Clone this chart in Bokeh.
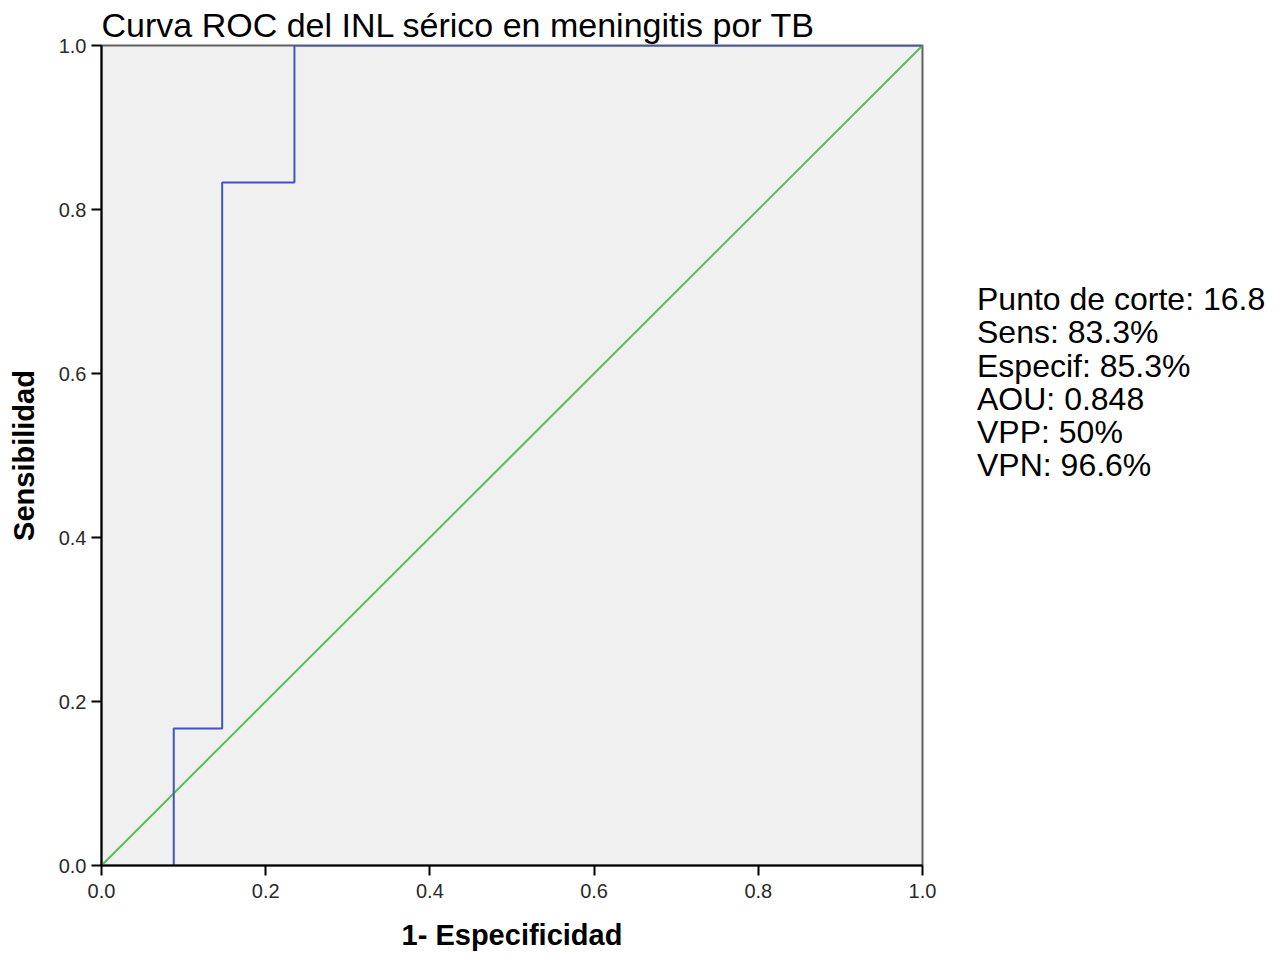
from bokeh.plotting import figure
from bokeh.models import Range1d, FixedTicker, PrintfTickFormatter, Div
from bokeh.layouts import row
from bokeh.embed import file_html
from bokeh.resources import INLINE

# Data
fpr = [0.088, 0.088, 0.147, 0.147, 0.235, 0.235, 1.0]
tpr = [0.0, 0.167, 0.167, 0.833, 0.833, 1.0, 1.0]
ref_x = [0.0, 1.0]
ref_y = [0.0, 1.0]
ticks = [0.0, 0.2, 0.4, 0.6, 0.8, 1.0]
title_text = "Curva ROC del INL sérico en meningitis por TB"
x_label = "1- Especificidad"
y_label = "Sensibilidad"
stats = ["Punto de corte: 16.8", "Sens: 83.3%", "Especif: 85.3%",
         "AOU: 0.848", "VPP: 50%", "VPN: 96.6%"]

FONT = "Liberation Sans"
PW, H = 975, 960

p = figure(width=PW, height=H, output_backend="svg", toolbar_location=None,
           x_range=Range1d(0, 1), y_range=Range1d(0, 1),
           min_border_left=101, min_border_right=PW - 922, min_border_top=45,
           min_border_bottom=H - 865)
p.background_fill_color = "#f0f0f0"
p.border_fill_color = "white"
p.outline_line_color = "#606060"
p.outline_line_width = 2
p.xgrid.visible = False
p.ygrid.visible = False

p.title.text = title_text
p.title.text_font = FONT
p.title.text_font_size = "34px"
p.title.text_font_style = "normal"
p.title.text_color = "black"
p.title.align = "left"
p.title.offset = 0
p.title.standoff = 4

for ax in (p.xaxis[0], p.yaxis[0]):
    ax.ticker = FixedTicker(ticks=ticks)
    ax.formatter = PrintfTickFormatter(format="%.1f")
    ax.axis_line_color = "black"
    ax.axis_line_width = 2
    ax.major_tick_line_color = "black"
    ax.major_tick_line_width = 2
    ax.major_tick_in = 0
    ax.major_tick_out = 10
    ax.minor_tick_line_color = None
    ax.major_label_text_font = FONT
    ax.major_label_text_font_size = "20px"
    ax.major_label_text_color = "#2a2a2a"
    ax.axis_label_text_font = FONT
    ax.axis_label_text_font_style = "bold"
    ax.axis_label_text_font_size = "29px"
    ax.axis_label_text_color = "black"

p.xaxis.axis_label = x_label
p.yaxis.axis_label = y_label
p.xaxis.major_label_standoff = 8
p.yaxis.major_label_standoff = 5
p.xaxis.axis_label_standoff = 18
p.yaxis.axis_label_standoff = 16

p.line(ref_x, ref_y, line_color="#55c055", line_width=2)
p.line(fpr, tpr, line_color="#4055c0", line_width=2)

stats_html = "<br>".join(stats)
div = Div(text=stats_html, width=300, height=300, margin=(283, 0, 0, 2),
          styles={"font-family": FONT, "font-size": "32px",
                  "line-height": "33.3px", "color": "black",
                  "white-space": "nowrap"})

layout = row(p, div)
open("out.html", "w").write(file_html(layout, INLINE))
